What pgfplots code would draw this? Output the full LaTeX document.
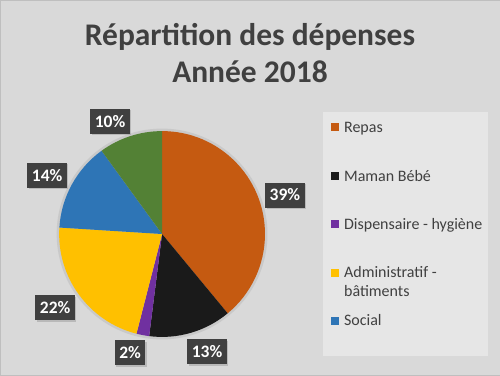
\documentclass[border=0pt]{standalone}
\usepackage{pgfplots}
\pgfplotsset{compat=1.18}
\usepackage{pgfplotstable}
\usepackage{fontspec}
\setmainfont{Carlito}
\usetikzlibrary{shadows}
\definecolor{bg}{HTML}{D9D9D9}
\definecolor{frame}{HTML}{BFBFBF}
\definecolor{legbg}{HTML}{E6E6E6}
\definecolor{titlec}{HTML}{404040}
\definecolor{lblbg}{HTML}{404040}
\definecolor{cRepas}{HTML}{C55A11}
\definecolor{cMaman}{HTML}{1A1A1A}
\definecolor{cDisp}{HTML}{7030A0}
\definecolor{cAdmin}{HTML}{FFC000}
\definecolor{cSocial}{HTML}{2E75B6}
\definecolor{cAutre}{HTML}{538135}
\tikzset{lbl/.style={fill=lblbg,text=white,font=\fontsize{17.5}{17.5}\selectfont\bfseries,
    inner xsep=4.5pt,minimum height=25pt,
    drop shadow={shadow xshift=1.5pt,shadow yshift=-1.5pt,opacity=0.35}}}
\pgfplotstableread{
v  c       lx  ly
39 cRepas  285 180
13 cMaman  207 23
2  cDisp   130 22
22 cAdmin  55  67
14 cSocial 47  200
10 cAutre  110 254
}\piedata
\begin{document}
\begin{tikzpicture}
\begin{axis}[width=500pt,height=375pt,scale only axis,
  xmin=0,xmax=500,ymin=0,ymax=375,hide axis,clip=false]
\fill[bg,draw=frame] (axis cs:0,0) rectangle (axis cs:500,375);
\node[font=\fontsize{31.5}{37}\selectfont\bfseries,text=titlec,anchor=base,inner sep=0pt]
  at (axis cs:250,330) {Répartition des dépenses};
\node[font=\fontsize{31.5}{37}\selectfont\bfseries,text=titlec,anchor=base,inner sep=0pt]
  at (axis cs:250,293) {Année 2018};
\fill[gray!42] (axis cs:162,141) circle[radius=105.5pt];
\pgfmathsetmacro\angA{90}
\pgfplotsforeachungrouped \i in {0,...,5}{%
  \pgfplotstablegetelem{\i}{v}\of\piedata \let\val\pgfplotsretval
  \pgfplotstablegetelem{\i}{c}\of\piedata \let\col\pgfplotsretval
  \pgfplotstablegetelem{\i}{lx}\of\piedata \let\lx\pgfplotsretval
  \pgfplotstablegetelem{\i}{ly}\of\piedata \let\ly\pgfplotsretval
  \pgfmathsetmacro\angB{\angA-3.6*\val}
  \edef\cmd{\noexpand\fill[\col] (axis cs:162,141) -- ++(\angA:103pt) arc[start angle=\angA, end angle=\angB, radius=103pt] -- cycle;}%
  \cmd
  \edef\cmd{\noexpand\node[lbl] at (axis cs:\lx,\ly) {\val\noexpand\%};}%
  \cmd
  \global\let\angA\angB
}
% legend
\fill[legbg] (axis cs:323,19) rectangle (axis cs:488,263);
\begin{scope}[every node/.style={anchor=base west,font=\fontsize{16}{19}\selectfont,text=titlec,inner sep=0pt}]
\fill[cRepas] (axis cs:331,244) rectangle (axis cs:339,252);
\node at (axis cs:344,243) {Repas};
\fill[cMaman] (axis cs:331,195) rectangle (axis cs:339,203);
\node at (axis cs:344,194) {Maman Bébé};
\fill[cDisp] (axis cs:331,147) rectangle (axis cs:339,155);
\node at (axis cs:344,146) {Dispensaire - hygiène};
\fill[cAdmin] (axis cs:331,98) rectangle (axis cs:339,106);
\node at (axis cs:344,97) {Administratif -};
\node at (axis cs:344,78) {bâtiments};
\fill[cSocial] (axis cs:331,50) rectangle (axis cs:339,58);
\node at (axis cs:344,49) {Social};
\end{scope}
\end{axis}
\end{tikzpicture}
\end{document}
